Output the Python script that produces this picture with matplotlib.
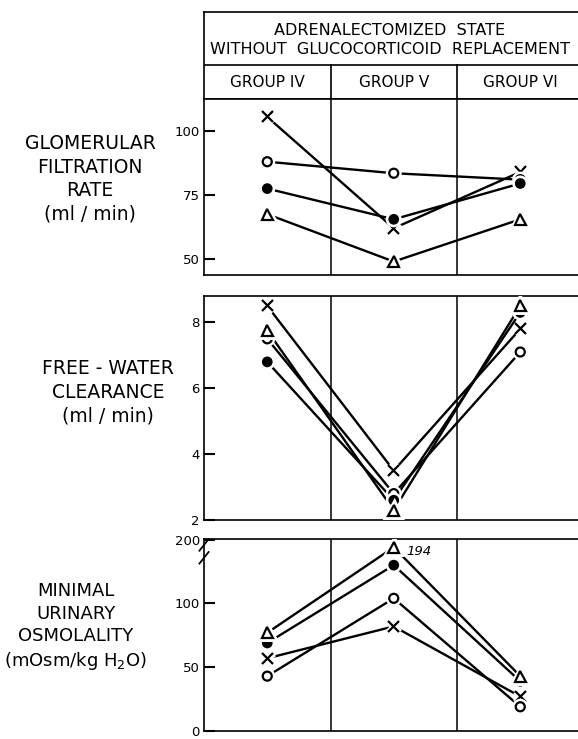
import matplotlib.pyplot as plt
import matplotlib as mpb
import matplotlib.patheffects as pe

mpb.rcParams.update({'font.family': 'DejaVu Sans'})
mpb.rcParams.update({'font.size': 9.5})
mpb.rcParams.update({'axes.linewidth': 1.2})

# ---- data ----
groups = ['GROUP IV', 'GROUP V', 'GROUP VI']
xpos = [0, 1, 2]

gfr_cross = [105.5, 62, 84]
gfr_open = [88, 83.5, 81]
gfr_filled = [77.5, 65.5, 79.5]
gfr_tri = [67.5, 49, 65.5]

fwc_cross = [8.5, 3.5, 7.8]
fwc_open = [7.5, 2.8, 7.1]
fwc_filled = [6.8, 2.6, 8.3]
fwc_tri = [7.75, 2.3, 8.5]

osm_cross = [57, 82, 27]
osm_open = [43, 104, 19]
osm_filled = [69, 130, 39]
osm_tri = [77, 194, 43]

gfr_ticks = [50, 75, 100]
fwc_ticks = [2, 4, 6, 8]
osm_ticks = [0, 50, 100, 200]


def squash(vals):
    # broken axis: everything above 150 is drawn 50 lower (200 sits at the top)
    return [v - 50 if v > 150 else v for v in vals]


figw = 5.78
figh = 7.39
fig = plt.figure(figsize=[figw, figh], dpi=100)

W = 578.0
H = 739.0
left = 204 / W
width = 379.5 / W

ax_h = fig.add_axes([left, 1 - 99 / H, width, 87 / H])
ax1 = fig.add_axes([left, 1 - 275 / H, width, 176 / H])
ax2 = fig.add_axes([left, 1 - 520 / H, width, 224 / H])
ax3 = fig.add_axes([left, 1 - 731 / H, width, 192 / H])

# ---- header box ----
ax_h.set_xlim(-0.5, 2.5)
ax_h.set_ylim(0, 1)
ax_h.set_xticks([])
ax_h.set_yticks([])
ax_h.axhline(0.39, color='k', lw=1.2)
for xd in [0.5, 1.5]:
    ax_h.plot([xd, xd], [0, 0.39], color='k', lw=1.2)
ax_h.text(0.97, 0.79, 'ADRENALECTOMIZED  STATE', ha='center', va='center',
          fontsize=11.5)
ax_h.text(0.97, 0.57, 'WITHOUT  GLUCOCORTICOID  REPLACEMENT', ha='center',
          va='center', fontsize=11.5)
for x, g in zip(xpos, groups):
    ax_h.text(x, 0.185, g, ha='center', va='center', fontsize=11)

halo = [pe.withStroke(linewidth=5, foreground='white')]


def plot_set(ax, cross, opn, filled, tri):
    # lines first, then markers with a white rim so the lines stop short
    for vals in [cross, opn, filled, tri]:
        ax.plot(xpos, vals, color='k', lw=1.7, zorder=2)
    ax.plot(xpos, cross, 'x', color='k', ms=8, mew=1.6, zorder=3,
            path_effects=halo)
    ax.plot(xpos, opn, 'o', color='k', ms=6.5, mew=1.6, mfc='white', zorder=3,
            path_effects=halo)
    ax.plot(xpos, filled, 'o', color='k', ms=6.5, mew=1.2, mfc='k', zorder=3,
            path_effects=halo)
    ax.plot(xpos, tri, '^', color='k', ms=8, mew=1.6, mfc='white', zorder=3,
            path_effects=halo)


def style(ax, ylim, ticks, labels):
    ax.set_xlim(-0.5, 2.5)
    ax.set_ylim(*ylim)
    ax.set_xticks([])
    ax.set_yticks(ticks)
    ax.set_yticklabels(labels)
    ax.tick_params(axis='y', direction='in', length=8, width=1.5, pad=3,
                   labelsize=9.5)
    for xd in [0.5, 1.5]:
        ax.axvline(xd, color='k', lw=1.1, zorder=1)


plot_set(ax1, gfr_cross, gfr_open, gfr_filled, gfr_tri)
style(ax1, (43.75, 112.5), gfr_ticks, [str(t) for t in gfr_ticks])

plot_set(ax2, fwc_cross, fwc_open, fwc_filled, fwc_tri)
style(ax2, (2, 8.8), fwc_ticks, [str(t) for t in fwc_ticks])

plot_set(ax3, osm_cross, osm_open, osm_filled, squash(osm_tri))
style(ax3, (0, 150.5), squash(osm_ticks), [str(t) for t in osm_ticks])
ax3.annotate(str(osm_tri[1]), xy=(xpos[1], squash(osm_tri)[1]),
             xytext=(9, -3), textcoords='offset points', fontsize=9.5,
             style='italic', va='center')

# axis break marks
for yb in [0.969, 0.902]:
    ax3.plot([-0.012, 0.012], [yb - 0.03, yb + 0.03], color='k', lw=1.3,
             transform=ax3.transAxes, clip_on=False)

# ---- row labels ----
fig.text(90 / W, 1 - 179 / H, 'GLOMERULAR\nFILTRATION\nRATE\n(ml / min)',
         ha='center', va='center', fontsize=13.5, linespacing=1.3)
fig.text(108 / W, 1 - 392 / H, 'FREE - WATER\nCLEARANCE\n(ml / min)',
         ha='center', va='center', fontsize=13.5, linespacing=1.3)
fig.text(76 / W, 1 - 627 / H, 'MINIMAL\nURINARY\nOSMOLALITY\n(mOsm/kg H$_2$O)',
         ha='center', va='center', fontsize=13, linespacing=1.3)

plt.savefig('out.png', dpi=100)
